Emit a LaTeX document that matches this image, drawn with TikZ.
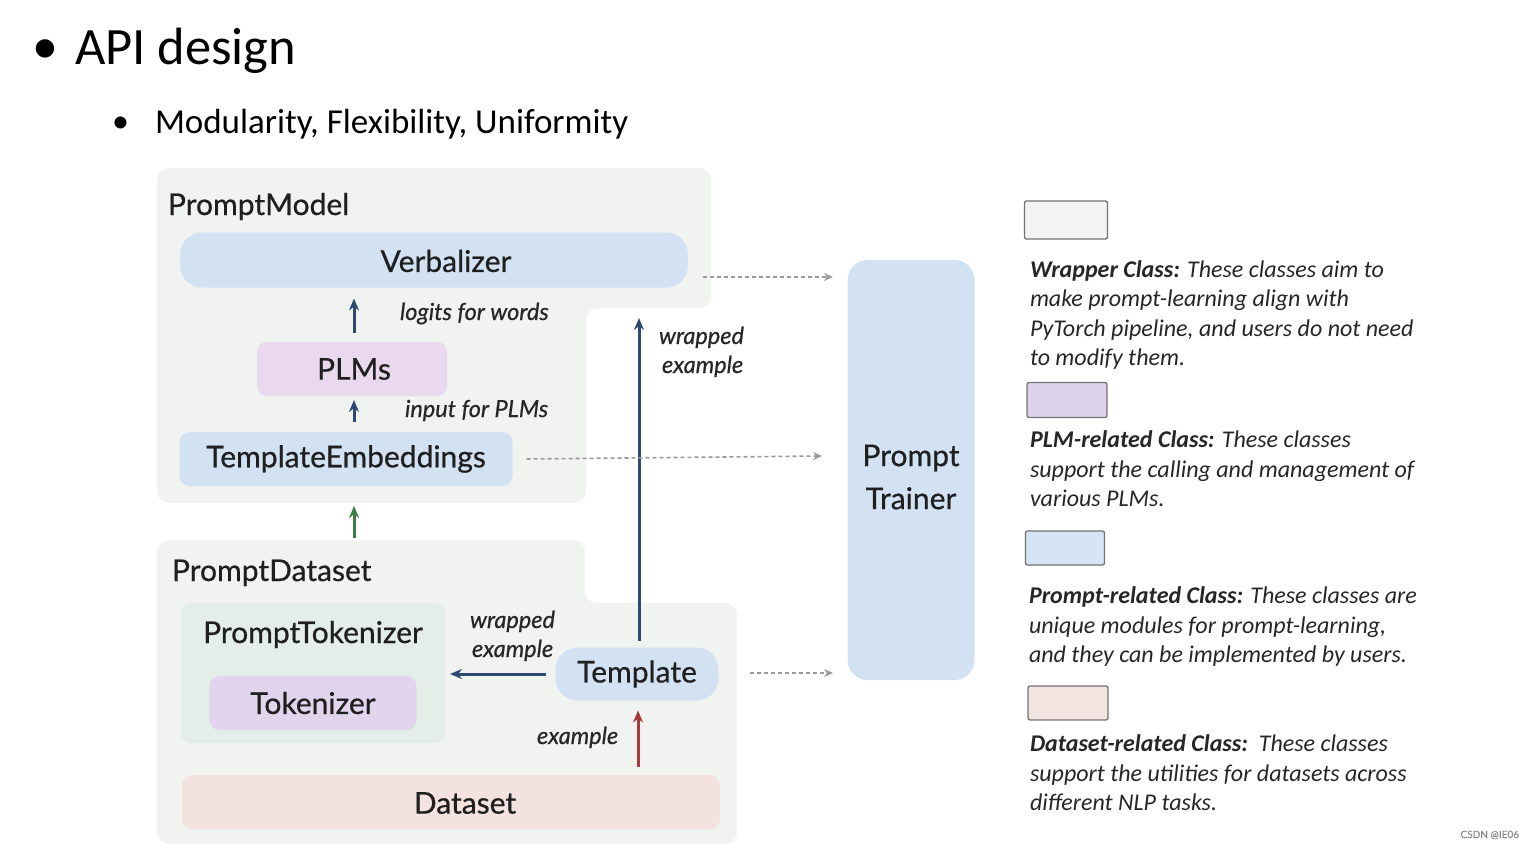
\documentclass[tikz,border=0pt]{standalone}
\usepackage{fontspec}
\setmainfont{Lato}[FakeBold=0.6]
\newfontfamily\legfont{Carlito}
\usetikzlibrary{arrows.meta}
\definecolor{wrapfill}{HTML}{F1F3F0}
\definecolor{blueb}{HTML}{D3E2F3}
\definecolor{plmfill}{HTML}{E9D8EE}
\definecolor{tokfill}{HTML}{E2D4EC}
\definecolor{ptokfill}{HTML}{E4EEE8}
\definecolor{datafill}{HTML}{F4E2DF}
\definecolor{arrblue}{HTML}{2E4A73}
\definecolor{arrgreen}{HTML}{3D7D45}
\definecolor{arrred}{HTML}{A8393C}
\definecolor{dashgrey}{HTML}{9A9A9A}
\definecolor{legwrap}{HTML}{F3F4F1}
\definecolor{legplm}{HTML}{DCD3EB}
\definecolor{legprompt}{HTML}{D7E4F5}
\definecolor{legdata}{HTML}{F1E4E1}
\begin{document}
\begin{tikzpicture}[x=1pt,y=-1pt,
  every node/.style={inner sep=0pt, outer sep=0pt},
  boxtext/.style={font=\fontsize{30}{36}\selectfont, text=black!88},
  classbox/.style={rounded corners=12pt, boxtext},
  flow/.style={-{Stealth[length=12pt,width=10pt]}, line width=3pt},
  dashflow/.style={-{Stealth[length=9pt,width=8pt]}, dashgrey, line width=1.6pt, dash pattern=on 4pt off 3pt},
  lbl/.style={font=\fontsize{23.5}{28}\selectfont\itshape, text=black!85},
  legtext/.style={anchor=base west, font=\legfont\fontsize{24}{28}\selectfont\itshape, text=black!85},
  legbox/.style={draw=black!55, line width=1.3pt, rounded corners=2pt}
]
\useasboundingbox (0,0) rectangle (1534,848);

% title
\node[anchor=base west, font=\legfont\fontsize{52}{58}\selectfont] (bul1) at (32,64) {•};
\node[anchor=base west, font=\legfont\fontsize{52.5}{58}\selectfont] (title) at (75,65) {API design};
\node[anchor=base west, font=\legfont\fontsize{34}{40}\selectfont] (bul2) at (112,133) {•};
\node[anchor=base west, font=\legfont\fontsize{35}{40}\selectfont] (sub) at (155,134) {Modularity, Flexibility, Uniformity};

% wrapper regions
\fill[wrapfill, rounded corners=12pt] (157,168) -- (711,168) -- (711,308) -- (586,308) -- (586,503) -- (157,503) -- cycle;
\fill[wrapfill, rounded corners=12pt] (157,540) -- (585,540) -- (585,603) -- (737,603) -- (737,844) -- (157,844) -- cycle;
\node[anchor=base west, boxtext] (pmlabel) at (168,215) {PromptModel};
\node[anchor=base west, boxtext] (pdlabel) at (172,581) {PromptDataset};

% PromptModel content
\node[classbox, fill=blueb, minimum width=508pt, minimum height=55pt, rounded corners=22pt] (verb) at (434,260) {};
\node[boxtext] (verbtext) at (446,261) {Verbalizer};
\node[classbox, fill=plmfill, minimum width=190pt, minimum height=54pt, rounded corners=10pt] (plm) at (352,369) {};
\node[boxtext] (plmtext) at (354,369) {PLMs};
\node[classbox, fill=blueb, minimum width=333pt, minimum height=54pt, rounded corners=10pt] (temb) at (346,459) {TemplateEmbeddings};

% PromptDataset content
\node[fill=ptokfill, rounded corners=10pt, minimum width=264pt, minimum height=140pt] (ptok) at (313,673) {};
\node[anchor=base, boxtext] (ptoklabel) at (313,643) {PromptTokenizer};
\node[classbox, fill=tokfill, minimum width=207pt, minimum height=54pt, rounded corners=10pt] (tok) at (313,703) {Tokenizer};
\node[classbox, fill=blueb, minimum width=163pt, minimum height=53pt, rounded corners=22pt] (tmpl) at (637,674) {Template};
\node[classbox, fill=datafill, minimum width=538pt, minimum height=54pt, rounded corners=10pt] (data) at (451,802) {};
\node[boxtext] (datatext) at (465,803) {Dataset};

% Prompt Trainer
\node[fill=blueb, rounded corners=20pt, minimum width=127pt, minimum height=420pt] (trainer) at (911,470) {};
\node[align=center, text=black!88, font=\fontsize{30}{43}\selectfont] (trainertext) at (911,477) {Prompt\\Trainer};

% arrows (yshift is in page direction: positive = up)
\draw[flow, arrblue] ([yshift=9pt]plm.north -| 354,0) -- ([yshift=-11pt]verb.south -| 354,0);
\node[lbl, anchor=base west] (l1) at (400,320) {logits for words};
\draw[flow, arrblue] ([yshift=10pt]temb.north -| 354,0) -- ([yshift=-4pt]plm.south -| 354,0);
\node[lbl, anchor=base west] (l2) at (405,417) {input for PLMs};
\coordinate (g0) at (354,538);
\coordinate (g1) at (354,506);
\draw[flow, arrgreen] (g0) -- (g1);
\draw[flow, arrblue] ([yshift=7pt]tmpl.north -| 639,0) -- (639,318) coordinate (wtop);
\node[lbl, anchor=base west] (l3) at (659,344) {wrapped};
\node[lbl, anchor=base west] (l3b) at (662,373) {example};
\draw[flow, arrblue] ([xshift=-10pt]tmpl.west) -- ([xshift=5pt]ptok.east |- tmpl.west);
\node[lbl, anchor=base west] (l4) at (470,628) {wrapped};
\node[lbl, anchor=base west] (l4b) at (472,657) {example};
\draw[flow, arrred] ([yshift=8pt]data.north -| 638,0) -- ([yshift=-10pt]tmpl.south -| 638,0);
\node[lbl, anchor=base west] (l5) at (537,744) {example};

% dashed arrows to trainer
\draw[dashflow] (703,277) -- (833,277);
\draw[dashflow] ([xshift=14pt]temb.east) -- (822,456);
\draw[dashflow] (750,673) -- (833,673);

% legend
\node[legbox, fill=legwrap, minimum width=83pt, minimum height=38pt] (lg1) at (1066,220) {};
\node[legtext] at (1030,277) {\textbf{Wrapper Class:} These classes aim to};
\node[legtext] at (1030,306) {make prompt-learning align with};
\node[legtext] at (1030,336) {PyTorch pipeline, and users do not need};
\node[legtext] at (1030,365) {to modify them.};
\node[legbox, fill=legplm, minimum width=80pt, minimum height=35pt] (lg2) at (1067,400) {};
\node[legtext] at (1030,447) {\textbf{PLM-related Class:} These classes};
\node[legtext] at (1030,477) {support the calling and management of};
\node[legtext] at (1030,506) {various PLMs.};
\node[legbox, fill=legprompt, minimum width=79pt, minimum height=34pt] (lg3) at (1065,548) {};
\node[legtext] at (1029,603) {\textbf{Prompt-related Class:} These classes are};
\node[legtext] at (1029,633) {unique modules for prompt-learning,};
\node[legtext] at (1029,662) {and they can be implemented by users.};
\node[legbox, fill=legdata, minimum width=80pt, minimum height=34pt] (lg4) at (1068,703) {};
\node[legtext] at (1030,751) {\textbf{Dataset-related Class:}\ \ These classes};
\node[legtext] at (1030,781) {support the utilities for datasets across};
\node[legtext] at (1030,810) {different NLP tasks.};

\node[anchor=base east, font=\fontsize{10}{12}\selectfont, text=black!45] (wm) at (1519,838) {CSDN @IE06};
\end{tikzpicture}
\end{document}
